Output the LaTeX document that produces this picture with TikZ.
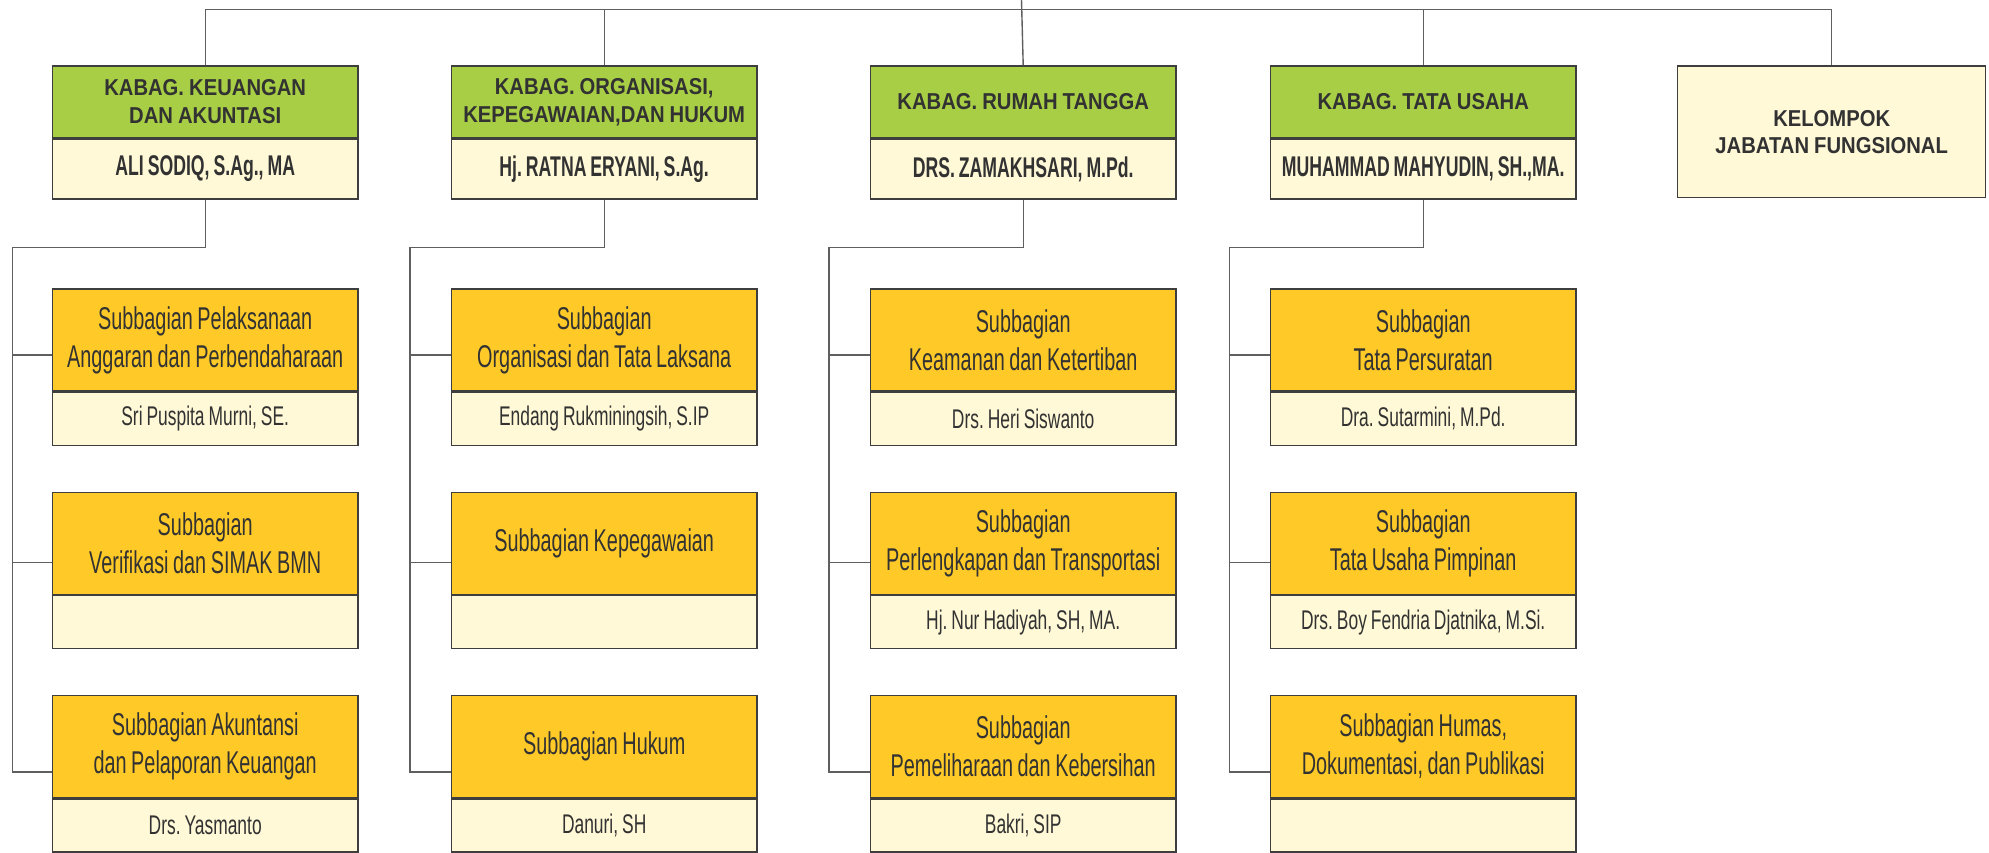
\documentclass[tikz,border=0pt]{standalone}
\usepackage{fontspec}
\setmainfont{Liberation Sans}
\newfontfamily\hdfont{Liberation Sans Bold}[FakeStretch=0.88,WordSpace=0.9]
\newfontfamily\nmfont{Liberation Sans Bold}[FakeStretch=0.62,WordSpace=0.8]
\newfontfamily\sbfont{Liberation Sans}[FakeStretch=0.63,WordSpace=0.82]
\newfontfamily\snfont{Liberation Sans}[FakeStretch=0.645,WordSpace=0.82]
\frenchspacing
\definecolor{kgreen}{RGB}{168,206,69}
\definecolor{korange}{RGB}{255,202,40}
\definecolor{cream}{RGB}{255,249,215}
\definecolor{bordergray}{RGB}{62,62,62}
\definecolor{linegray}{RGB}{95,95,95}
\definecolor{txt}{RGB}{50,50,50}
\tikzset{
  line/.style={draw=linegray, line width=1.4pt},
  base/.style={draw=bordergray, line width=1.4pt, inner sep=0pt, align=center, text=txt, minimum width=305.6pt},
  hdbox/.style={base, fill=kgreen, minimum height=71.7pt, anchor=north west, font=\frenchspacing\hdfont\fontsize{23}{28}\selectfont},
  hdname/.style={base, fill=cream, minimum height=59.7pt, anchor=north, font=\frenchspacing\nmfont\fontsize{28.5}{34}\selectfont},
  sbbox/.style={base, fill=korange, minimum height=102pt, anchor=north west, font=\frenchspacing\sbfont\fontsize{31.5}{38}\selectfont},
  sbname/.style={base, fill=cream, minimum height=53pt, anchor=north, font=\frenchspacing\snfont\fontsize{27}{32}\selectfont},
  kfbox/.style={base, fill=cream, minimum width=308pt, minimum height=131.4pt, anchor=north west, font=\frenchspacing\hdfont\fontsize{23}{27}\selectfont}
}
\begin{document}
\begin{tikzpicture}[x=1pt,y=-1pt]
\useasboundingbox (0,0) rectangle (1989,852);
% header boxes
\node[hdbox] (k1) at (51.7,65.3) {KABAG. KEUANGAN\\DAN AKUNTASI};
\node[hdname] (k1n) at (k1.south) {ALI SODIQ, S.Ag., MA};
\node[hdbox] (k2) at (450.7,65.3) {KABAG. ORGANISASI,\\KEPEGAWAIAN,DAN HUKUM};
\node[hdname] (k2n) at (k2.south) {Hj. RATNA ERYANI, S.Ag.};
\node[hdbox] (k3) at (869.7,65.3) {KABAG. RUMAH TANGGA};
\node[hdname] (k3n) at (k3.south) {DRS. ZAMAKHSARI, M.Pd.};
\node[hdbox] (k4) at (1269.7,65.3) {KABAG. TATA USAHA};
\node[hdname] (k4n) at (k4.south) {MUHAMMAD MAHYUDIN, SH.,MA.};
\node[kfbox] (k5) at (1677,65.3) {KELOMPOK\\JABATAN FUNGSIONAL};
% column 1
\node[sbbox] (s11) at (51.7,288.3) {Subbagian Pelaksanaan\\Anggaran dan Perbendaharaan};
\node[sbname] (s11n) at (s11.south) {Sri Puspita Murni, SE.};
\node[sbbox] (s12) at (51.7,491.5) {Subbagian\\Verifikasi dan SIMAK BMN};
\node[sbname] (s12n) at (s12.south) {};
\node[sbbox] (s13) at (51.7,694.7) {Subbagian Akuntansi\\dan Pelaporan Keuangan};
\node[sbname] (s13n) at (s13.south) {Drs. Yasmanto};
% column 2
\node[sbbox] (s21) at (450.7,288.3) {Subbagian\\Organisasi dan Tata Laksana};
\node[sbname] (s21n) at (s21.south) {Endang Rukminingsih, S.IP};
\node[sbbox] (s22) at (450.7,491.5) {Subbagian Kepegawaian};
\node[sbname] (s22n) at (s22.south) {};
\node[sbbox] (s23) at (450.7,694.7) {Subbagian Hukum};
\node[sbname] (s23n) at (s23.south) {Danuri, SH};
% column 3
\node[sbbox] (s31) at (869.7,288.3) {Subbagian\\Keamanan dan Ketertiban};
\node[sbname] (s31n) at (s31.south) {Drs. Heri Siswanto};
\node[sbbox] (s32) at (869.7,491.5) {Subbagian\\Perlengkapan dan Transportasi};
\node[sbname] (s32n) at (s32.south) {Hj. Nur Hadiyah, SH, MA.};
\node[sbbox] (s33) at (869.7,694.7) {Subbagian\\Pemeliharaan dan Kebersihan};
\node[sbname] (s33n) at (s33.south) {Bakri, SIP};
% column 4
\node[sbbox] (s41) at (1269.7,288.3) {Subbagian\\Tata Persuratan};
\node[sbname] (s41n) at (s41.south) {Dra. Sutarmini, M.Pd.};
\node[sbbox] (s42) at (1269.7,491.5) {Subbagian\\Tata Usaha Pimpinan};
\node[sbname] (s42n) at (s42.south) {Drs. Boy Fendria Djatnika, M.Si.};
\node[sbbox] (s43) at (1269.7,694.7) {Subbagian Humas,\\Dokumentasi, dan Publikasi};
\node[sbname] (s43n) at (s43.south) {};
% top connectors
\coordinate (top) at (1021.5,0);
\coordinate (tl) at (0,9.5);
\draw[line] (top) -- (k3.north);
\draw[line] (k1.north) -- (k1.north |- tl) -- (k5.north |- tl) -- (k5.north);
\draw[line] (k2.north |- tl) -- (k2.north);
\draw[line] (k4.north |- tl) -- (k4.north);
% bus coordinates
\coordinate (b1) at (12.3,247.7);
\coordinate (b2) at (410,247.7);
\coordinate (b3) at (829,247.7);
\coordinate (b4) at (1229.5,247.7);
\foreach \c in {1,2,3,4}{
  \coordinate (c\c1) at ([yshift=-15pt]s\c1.west);
  \coordinate (c\c2) at ([yshift=-19.5pt]s\c2.west);
  \coordinate (c\c3) at ([yshift=-25.6pt]s\c3.west);
  \draw[line] (k\c n.south) |- (b\c) -- (c\c3 -| b\c) -- (c\c3);
  \draw[line] (c\c1 -| b\c) -- (c\c1);
  \draw[line] (c\c2 -| b\c) -- (c\c2);
}
\end{tikzpicture}
\end{document}
